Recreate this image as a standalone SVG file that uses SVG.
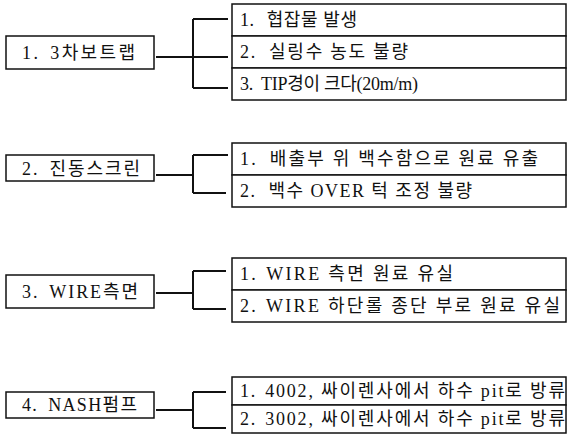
<svg xmlns="http://www.w3.org/2000/svg" width="569" height="442" viewBox="0 0 569 442">
<style>
.box{fill:#fff;stroke:#111;stroke-width:1.5}
.con{fill:none;stroke:#111;stroke-width:2}
text{font-family:"Liberation Serif","Noto Sans CJK KR",serif;font-size:18px;fill:#111}
</style>
<rect width="569" height="442" fill="#fff"/>
<g id="connectors">
<path class="con" d="M156 57H193M193 19V88M193 19H228M193 57H228M193 88H228"/>
<path class="con" d="M156 175H193M193 155V193M193 155H228M193 193H226"/>
<path class="con" d="M156 293H193M193 271V309M193 271H226M193 309H226"/>
<path class="con" d="M156 410H193M193 392V428M193 392H226M193 428H226"/>
</g>
<g id="n1">
<rect class="box" x="6" y="36" width="148" height="33"/>
<text x="22" y="59" textLength="113" lengthAdjust="spacing">1.<tspan dx="10">3차보트랩</tspan></text>
</g>
<g id="n1-1">
<rect class="box" x="232" y="4" width="334" height="32"/>
<text x="240" y="26" textLength="117" lengthAdjust="spacing">1.<tspan dx="12">협잡물 발생</tspan></text>
</g>
<g id="n1-2">
<rect class="box" x="232" y="36" width="334" height="32"/>
<text x="240" y="58" textLength="168" lengthAdjust="spacing">2.<tspan dx="12">실링수 농도 불량</tspan></text>
</g>
<g id="n1-3">
<rect class="box" x="232" y="68" width="334" height="32"/>
<text x="240" y="90" textLength="178" lengthAdjust="spacing">3.<tspan dx="8">TIP경이 크다(20m/m)</tspan></text>
</g>
<g id="n2">
<rect class="box" x="6" y="155" width="148" height="26"/>
<text x="22" y="175" textLength="118" lengthAdjust="spacing">2.<tspan dx="10">진동스크린</tspan></text>
</g>
<g id="n2-1">
<rect class="box" x="232" y="143" width="334" height="32"/>
<text x="240" y="165" textLength="298" lengthAdjust="spacing">1.<tspan dx="12">배출부 위 백수함으로 원료 유출</tspan></text>
</g>
<g id="n2-2">
<rect class="box" x="232" y="175" width="334" height="32"/>
<text x="240" y="197" textLength="232" lengthAdjust="spacing">2.<tspan dx="12">백수 OVER 턱 조정 불량</tspan></text>
</g>
<g id="n3">
<rect class="box" x="6" y="275" width="148" height="33"/>
<text x="22" y="298" textLength="116" lengthAdjust="spacing">3.<tspan dx="10">WIRE측면</tspan></text>
</g>
<g id="n3-1">
<rect class="box" x="232" y="258" width="334" height="32"/>
<text x="240" y="280" textLength="213" lengthAdjust="spacing">1.<tspan dx="8">WIRE 측면 원료 유실</tspan></text>
</g>
<g id="n3-2">
<rect class="box" x="232" y="290" width="334" height="32"/>
<text x="240" y="312" textLength="320" lengthAdjust="spacing">2.<tspan dx="8">WIRE 하단롤 종단 부로 원료 유실</tspan></text>
</g>
<g id="n4">
<rect class="box" x="6" y="392" width="148" height="26"/>
<text x="22" y="411" textLength="115" lengthAdjust="spacing">4.<tspan dx="10">NASH펌프</tspan></text>
</g>
<g id="n4-1">
<rect class="box" x="232" y="377" width="334" height="28"/>
<text x="240" y="397" textLength="325" lengthAdjust="spacing">1.<tspan dx="8">4002, 싸이렌사에서 하수 pit로 방류</tspan></text>
</g>
<g id="n4-2">
<rect class="box" x="232" y="405" width="334" height="28"/>
<text x="240" y="425" textLength="325" lengthAdjust="spacing">2.<tspan dx="8">3002, 싸이렌사에서 하수 pit로 방류</tspan></text>
</g>
</svg>
